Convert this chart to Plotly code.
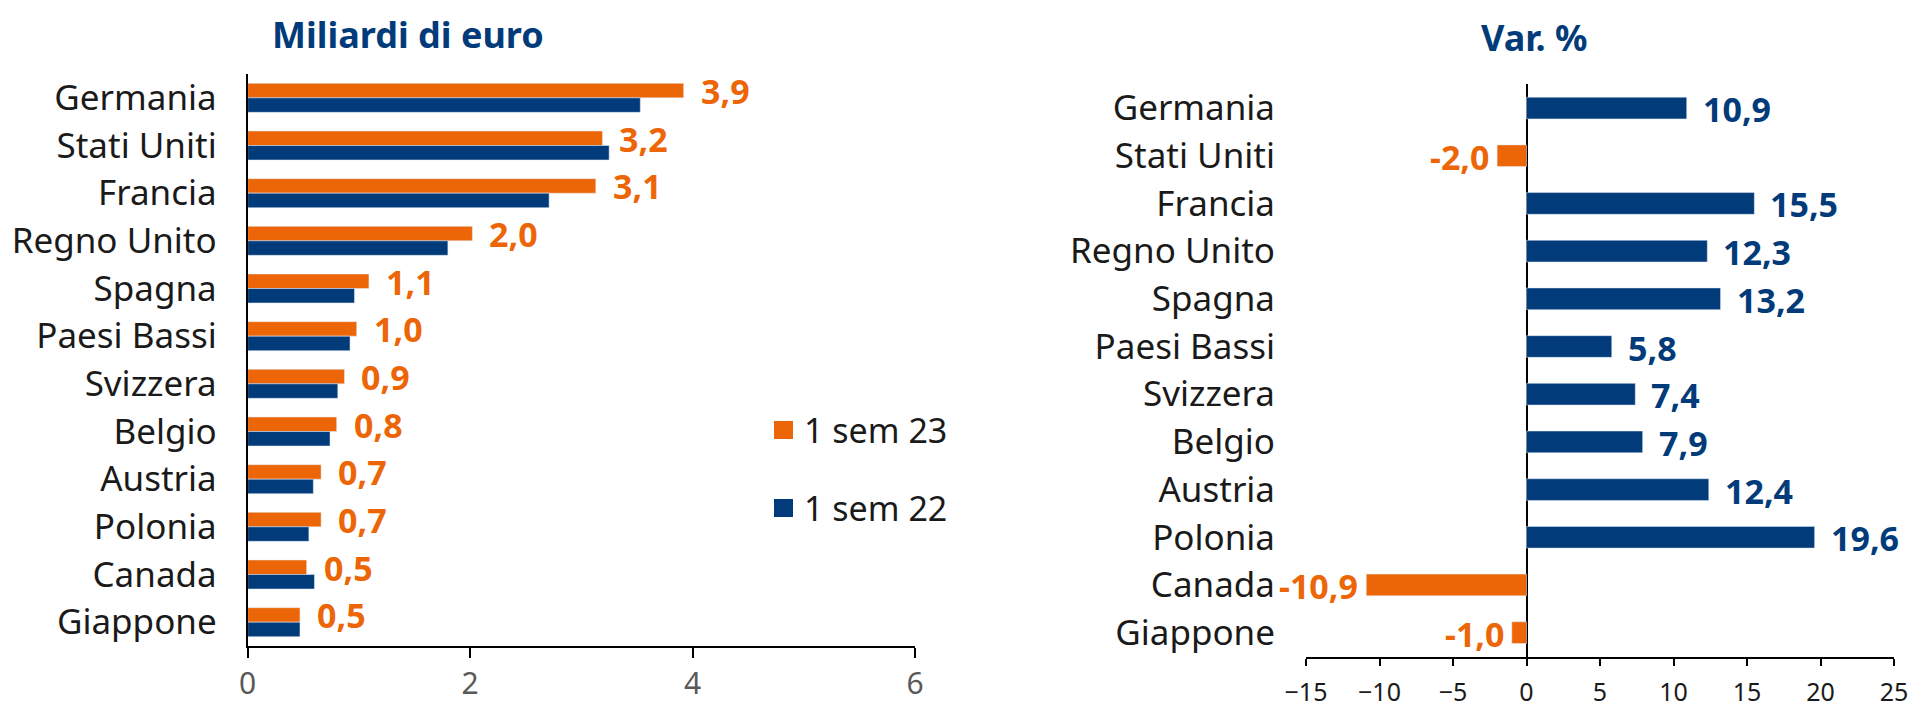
import plotly.graph_objects as go

paesi = ["Germania", "Stati Uniti", "Francia", "Regno Unito", "Spagna", "Paesi Bassi",
         "Svizzera", "Belgio", "Austria", "Polonia", "Canada", "Giappone"]
sem23 = [3.92, 3.19, 3.13, 2.02, 1.09, 0.98, 0.87, 0.80, 0.66, 0.66, 0.53, 0.47]
sem22 = [3.53, 3.25, 2.71, 1.80, 0.96, 0.92, 0.81, 0.74, 0.59, 0.55, 0.60, 0.47]
var_pct = [10.9, -2.0, 15.5, 12.3, 13.2, 5.8, 7.4, 7.9, 12.4, 19.6, -10.9, -1.0]
ticks_sx = [0, 2, 4, 6]
ticks_dx = [-15, -10, -5, 0, 5, 10, 15, 20, 25]

ARANCIO = "#EC6607"
BLU = "#023B7A"
W, H = 1921, 704
FONT = "Noto Sans"
OFF = 8  # margine del body html


def px(x):
    return (x - OFF) / W


def py(y):
    return 1 - (y - OFF) / H


def fmt(v):
    return f"{v:.1f}".replace(".", ",")


fig = go.Figure()
fig.add_trace(go.Bar(y=paesi, x=sem23, orientation="h", name="1 sem 23",
                     marker_color=ARANCIO, xaxis="x", yaxis="y", showlegend=False))
fig.add_trace(go.Bar(y=paesi, x=sem22, orientation="h", name="1 sem 22",
                     marker_color=BLU, xaxis="x", yaxis="y", showlegend=False))
fig.add_trace(go.Bar(y=paesi, x=var_pct, orientation="h", width=0.455,
                     marker_color=[BLU if v >= 0 else ARANCIO for v in var_pct],
                     xaxis="x2", yaxis="y2", showlegend=False))

ann = []
# etichette valori grafico sinistro
for p, v in zip(paesi, sem23):
    ann.append(dict(x=v, y=p, xref="x", yref="y", text=fmt(v), showarrow=False,
                    xanchor="left", yanchor="middle", xshift=15, yshift=7,
                    font=dict(family=FONT, size=34, color=ARANCIO, weight="bold")))
# etichette var %
for p, v in zip(paesi, var_pct):
    ann.append(dict(x=v, y=p, xref="x2", yref="y2", text=fmt(v), showarrow=False,
                    xanchor="left" if v >= 0 else "right", yanchor="middle",
                    xshift=14 if v >= 0 else -6, yshift=-1,
                    font=dict(family=FONT, size=34, color=BLU if v >= 0 else ARANCIO,
                              weight="bold")))
# titoli
ann.append(dict(x=px(408), y=py(34), xref="paper", yref="paper", text="<b>Miliardi di euro</b>",
                xanchor="center", yanchor="middle",
                showarrow=False, font=dict(family=FONT, size=36, color=BLU)))
ann.append(dict(x=px(1534), y=py(38), xref="paper", yref="paper", text="<b>Var. %</b>",
                xanchor="center", yanchor="middle",
                showarrow=False, font=dict(family=FONT, size=36, color=BLU)))

# legenda manuale
shapes = []
for nome, col, yc in [("1 sem 23", ARANCIO, 430), ("1 sem 22", BLU, 508)]:
    shapes.append(dict(type="rect", xref="paper", yref="paper", x0=px(774), x1=px(793),
                       y0=py(yc + 9), y1=py(yc - 9), fillcolor=col, line_width=0))
    ann.append(dict(x=px(802), y=py(yc), xref="paper", yref="paper", text=nome,
                    showarrow=False, xanchor="left", yanchor="middle",
                    font=dict(family=FONT, size=34, color="#1a1a1a")))

fig.update_layout(
    width=W, height=H, margin=dict(l=0, r=0, t=0, b=0),
    paper_bgcolor="white", plot_bgcolor="white",
    barmode="group", bargap=0.392, bargroupgap=0,
    annotations=ann, shapes=shapes,
    font=dict(family=FONT, color="#1a1a1a"),
    xaxis=dict(domain=[px(247.7), px(915)], range=[0, 6], tickvals=ticks_sx,
               showgrid=False, zeroline=False, showline=True, linecolor="black",
               linewidth=2, ticks="outside", ticklen=10, tickwidth=2, tickcolor="black",
               ticklabelstandoff=0, automargin=False,
               tickfont=dict(family=FONT, size=30, color="#595959"), anchor="y"),
    yaxis=dict(domain=[py(646), py(74)], range=[11.5, -0.5], type="category",
               showgrid=False, zeroline=False, showline=True, linecolor="black", linewidth=2,
               ticks="", ticklabelstandoff=22, automargin=False,
               tickfont=dict(family=FONT, size=35, color="#1a1a1a"), anchor="x"),
    xaxis2=dict(domain=[px(1306), px(1894)], range=[-15, 25], tickvals=ticks_dx,
                showgrid=False, zeroline=True, zerolinecolor="black", zerolinewidth=2,
                showline=True, linecolor="black", linewidth=2,
                ticks="outside", ticklen=7, tickwidth=2, tickcolor="black",
                ticklabelstandoff=5, automargin=False,
                tickfont=dict(family=FONT, size=25, color="#1a1a1a"), anchor="y2"),
    yaxis2=dict(domain=[py(656.5), py(84.2)], range=[11.5, -0.5], type="category",
                showgrid=False, zeroline=False, showline=False,
                ticks="", ticklabelstandoff=30, automargin=False,
                tickfont=dict(family=FONT, size=35, color="#1a1a1a"), anchor="x2"),
)

fig.write_html("out.html")
